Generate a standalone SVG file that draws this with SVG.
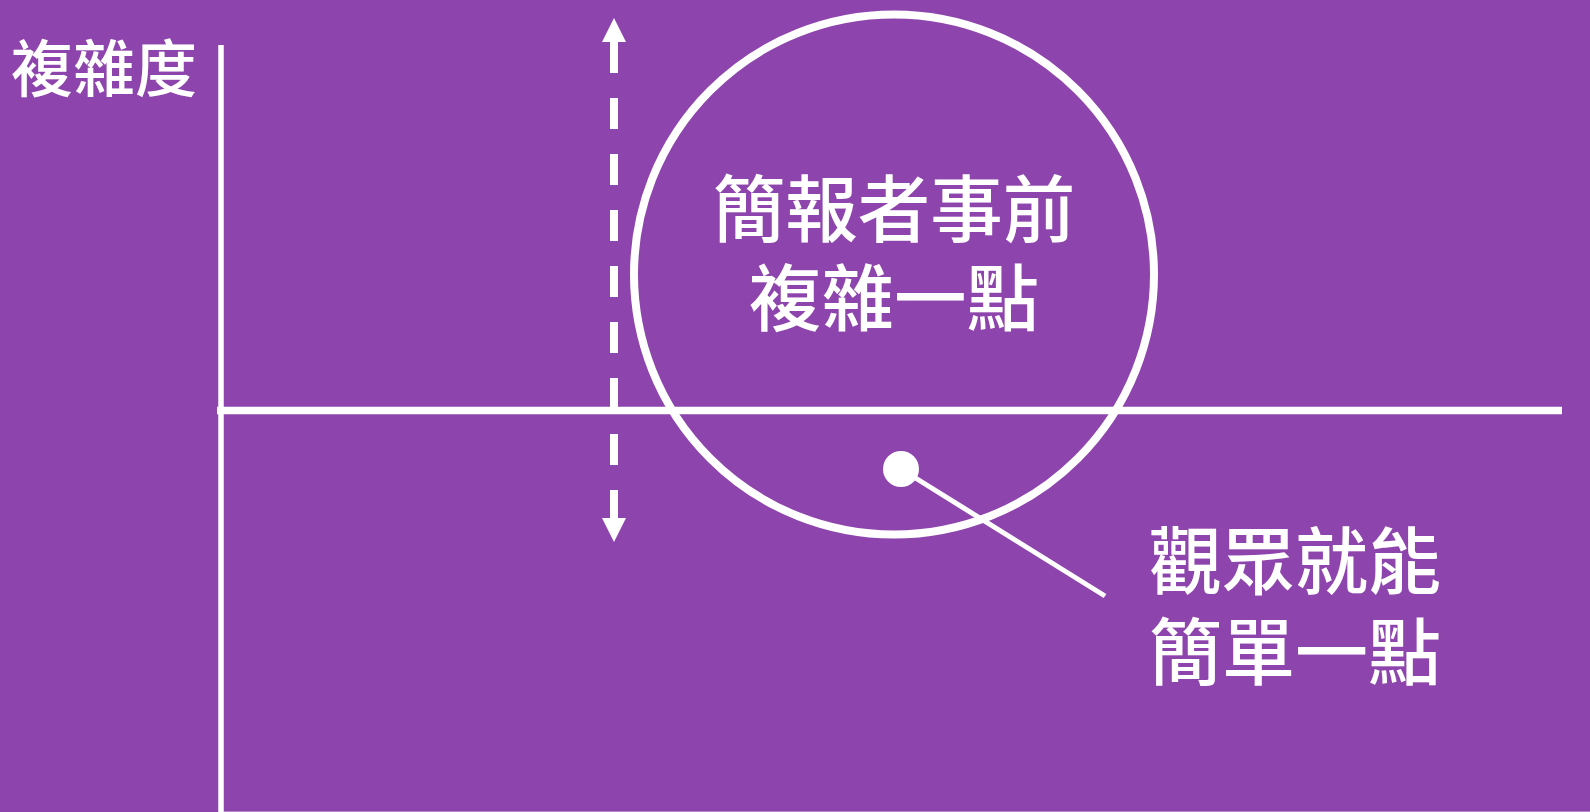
<svg xmlns="http://www.w3.org/2000/svg" width="1590" height="812" viewBox="0 0 1590 812">
<style>
.t{font-family:"Noto Sans CJK TC","Noto Sans CJK SC",sans-serif;font-weight:500;fill:#ffffff}
.ax{stroke:#ffffff;fill:none}
</style>
<rect width="1590" height="812" fill="#8e44ad"/>
<g id="connectors">
<line class="ax" x1="221" y1="45" x2="221" y2="812" stroke-width="5.5"/>
<line class="ax" x1="217" y1="410.5" x2="1562" y2="410.5" stroke-width="7.5"/>
<line class="ax" x1="223" y1="811.5" x2="1590" y2="811.5" stroke-width="1" stroke-opacity="0.35"/>
<line class="ax" x1="614" y1="42" x2="614" y2="518" stroke-width="8" stroke-dasharray="31 25"/>
<path d="M602,42 L614,18 L626,42 Z" fill="#ffffff"/>
<path d="M602,518 L614,542 L626,518 Z" fill="#ffffff"/>
<line class="ax" x1="901" y1="469" x2="1105" y2="596" stroke-width="5"/>
</g>
<g id="circle-node">
<circle class="ax" cx="894" cy="274.5" r="260" stroke-width="8"/>
<text class="t" x="894" y="236" font-size="72.5" text-anchor="middle">簡報者事前</text>
<text class="t" x="894" y="325" font-size="72.5" text-anchor="middle">複雜一點</text>
</g>
<g id="dot">
<circle cx="901" cy="469" r="18" fill="#ffffff"/>
</g>
<g id="y-label">
<text class="t" x="11" y="92" font-size="62">複雜度</text>
</g>
<g id="audience-label">
<text class="t" x="1149" y="588" font-size="73">觀眾就能</text>
<text class="t" x="1149" y="679" font-size="73">簡單一點</text>
</g>
</svg>
